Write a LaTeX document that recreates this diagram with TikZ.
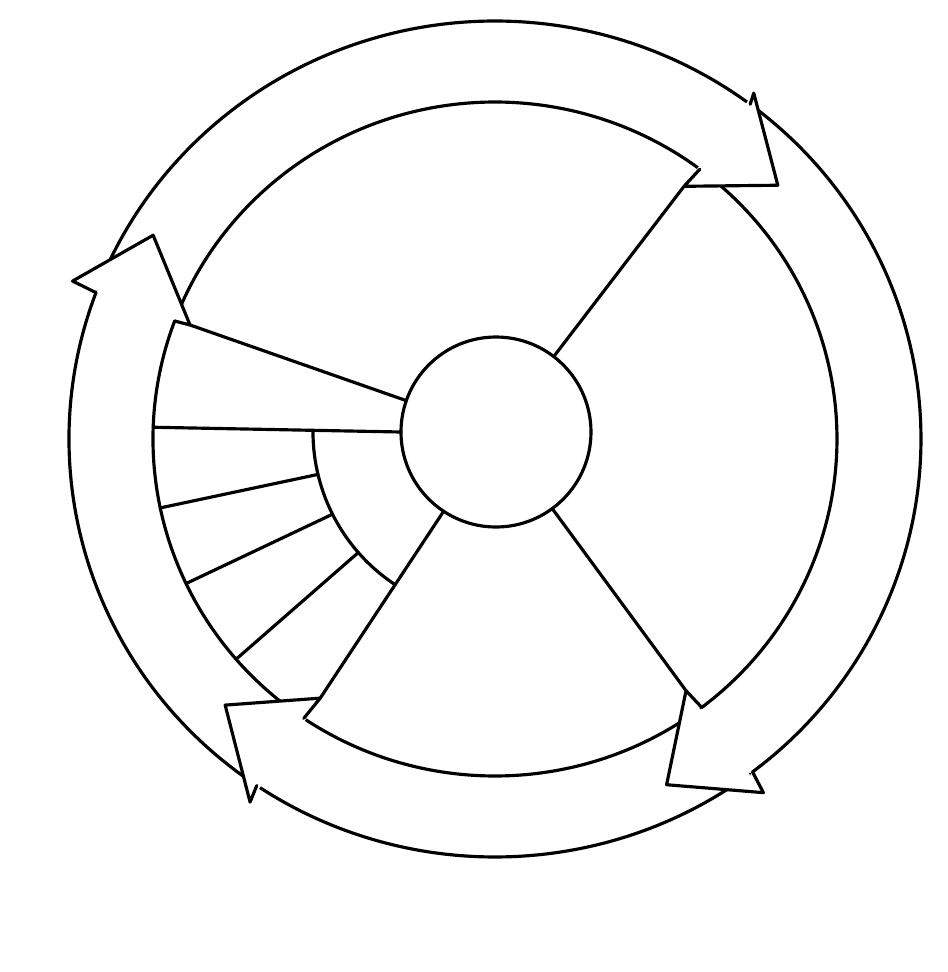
\documentclass[tikz,border=0pt]{standalone}
\usetikzlibrary{calc}
\begin{document}
\begin{tikzpicture}[line width=0.9pt, line cap=round, line join=round,
  ring/.style={draw=black},
  headfill/.style={fill=white, draw=none}]
\useasboundingbox (-4.95,-5.33) rectangle (4.53,4.39);
\coordinate (O) at (0,0);
\coordinate (S) at (0.01,0.07);

% ---- arrow bodies (outer and inner arcs), tails hidden under previous heads
% top arrow
\draw[ring] (159.0:4.26 and 4.18) arc[start angle=159.0, end angle=53.2, x radius=4.26cm, y radius=4.18cm];
\draw[ring] (159.0:3.42 and 3.37) arc[start angle=159.0, end angle=53.2, x radius=3.42cm, y radius=3.37cm];
% right arrow
\draw[ring] (52.7:4.26 and 4.18) arc[start angle=52.7, end angle=-52.8, x radius=4.26cm, y radius=4.18cm];
\draw[ring] (52.7:3.42 and 3.37) arc[start angle=52.7, end angle=-52.8, x radius=3.42cm, y radius=3.37cm];
% bottom arrow
\draw[ring] (-53.3:4.26 and 4.18) arc[start angle=-53.3, end angle=-124, x radius=4.26cm, y radius=4.18cm];
\draw[ring] (-53.3:3.42 and 3.37) arc[start angle=-53.3, end angle=-124, x radius=3.42cm, y radius=3.37cm];
% left arrow
\draw[ring] (-124.5:4.26 and 4.18) arc[start angle=-124.5, end angle=-200.5, x radius=4.26cm, y radius=4.18cm];
\draw[ring] (-124.5:3.42 and 3.37) arc[start angle=-124.5, end angle=-200.5, x radius=3.42cm, y radius=3.37cm];

% ---- arrow heads
% head 1 (top right)
\coordinate (oe1) at (53.2:4.26 and 4.18);
\coordinate (ie1) at (53.2:3.42 and 3.37);
\coordinate (ob1) at (53.2:4.32);
\coordinate (ib1) at (53.2:3.156);
\coordinate (tp1) at (41.9:3.80);
% head 2 (bottom right)
\coordinate (oe2) at (-52.8:4.26 and 4.18);
\coordinate (ie2) at (-52.8:3.42 and 3.37);
\coordinate (ob2) at (-52.8:4.44);
\coordinate (ib2) at (-52.8:3.16);
\coordinate (tp2) at (-63.6:3.86);
% head 3 (bottom left)
\coordinate (oe3) at (-124:4.26 and 4.18);
\coordinate (ie3) at (-124:3.42 and 3.37);
\coordinate (ob3) at (-124:4.38);
\coordinate (ib3) at (-124:3.126);
\coordinate (tp3) at (-135.4:3.79);
% head 4 (top left)
\coordinate (oe4) at (159.5:4.26 and 4.18);
\coordinate (ie4) at (159.5:3.42 and 3.37);
\coordinate (ob4) at (159.5:4.51);
\coordinate (ib4) at (159.5:3.256);
\coordinate (tp4) at (149.2:3.98);

\foreach \h in {1,2,3,4}{
  \fill[headfill] (ob\h) -- (tp\h) -- (ib\h) -- cycle;
  \draw (oe\h) -- (ob\h) -- (tp\h) -- (ib\h) -- (ie\h);
}

% ---- hub and spokes
\draw (S) circle[radius=0.95cm];
\foreach \h in {1,2,3,4}{
  \coordinate (sp\h) at ($(S)!0.95cm!(ib\h)$);
  \draw (sp\h) -- (ib\h);
}

% ---- subdivided left sector
\coordinate (hz0) at ($(S)+(180:0.95)$);
\coordinate (hz1) at (178:3.42 and 3.37);
\draw (hz0) -- (hz1);
\coordinate (ia0) at ($(S)+(180:1.83)$);
\draw (ia0) arc[start angle=180, end angle=236.1, radius=1.83cm];
\coordinate (a1) at ($(S)+(193.4:1.83)$);
\coordinate (b1) at (191.8:3.42 and 3.37);
\coordinate (a2) at ($(S)+(206.7:1.83)$);
\coordinate (b2) at (205.4:3.42 and 3.37);
\coordinate (a3) at ($(S)+(221.2:1.83)$);
\coordinate (b3) at (220.8:3.42 and 3.37);
\draw (a1) -- (b1);
\draw (a2) -- (b2);
\draw (a3) -- (b3);
\end{tikzpicture}
\end{document}
